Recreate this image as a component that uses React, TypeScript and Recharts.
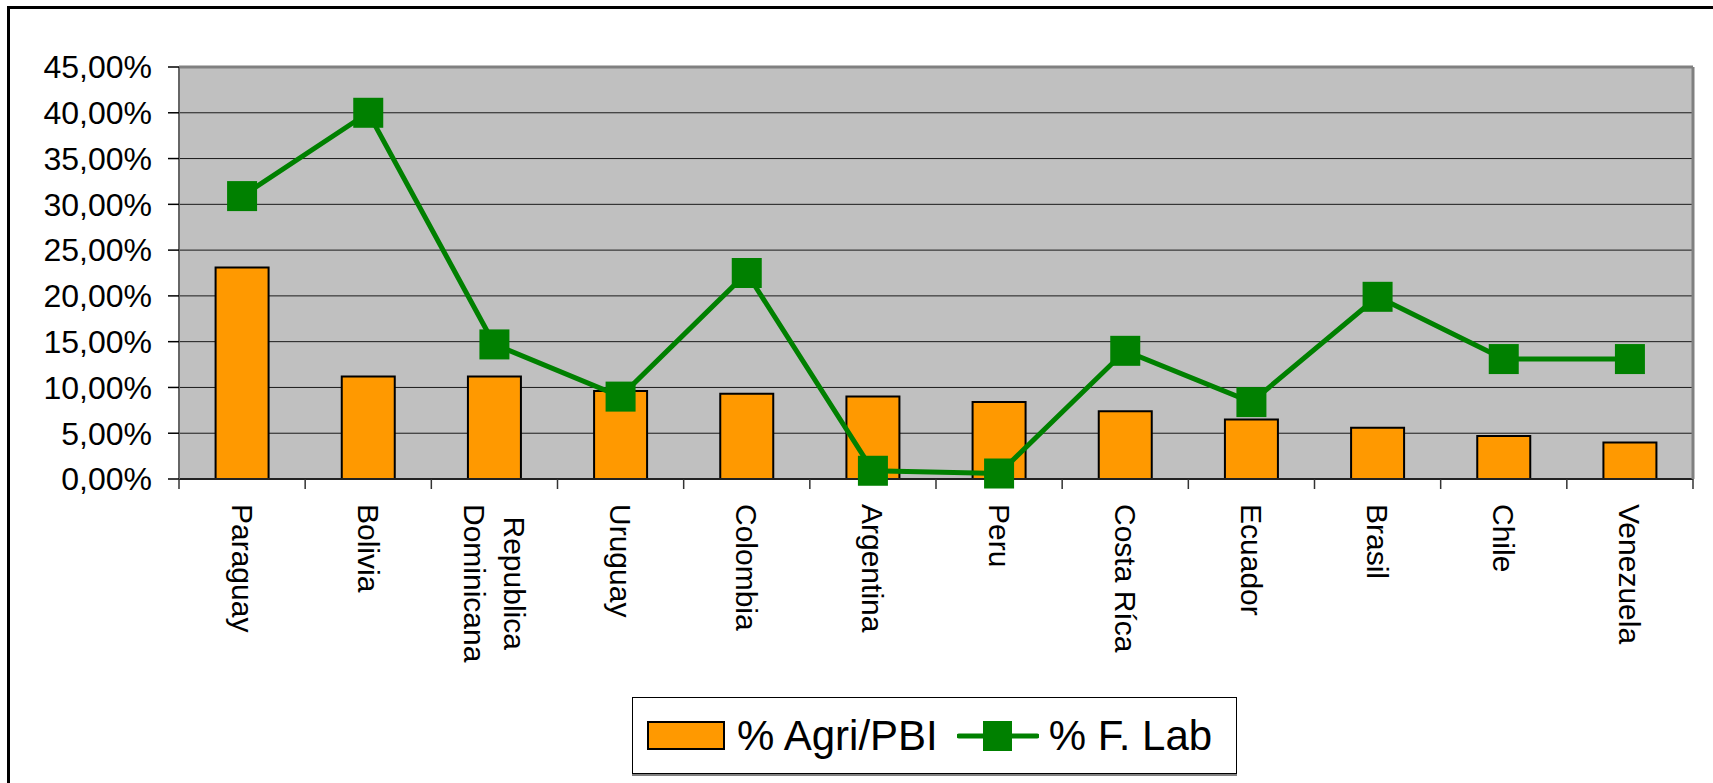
import React from 'react';
import { ComposedChart, Bar, Line, XAxis, YAxis, CartesianGrid, Legend } from 'recharts';

const categories = ['Paraguay', 'Bolivia', 'Republica Dominicana', 'Uruguay', 'Colombia', 'Argentina', 'Peru', 'Costa Ríca', 'Ecuador', 'Brasil', 'Chile', 'Venezuela'];
const agriPbi = [23.1, 11.2, 11.2, 9.6, 9.3, 9.0, 8.4, 7.4, 6.5, 5.6, 4.7, 4.0];
const fLab = [30.9, 40.0, 14.7, 9.0, 22.5, 0.9, 0.6, 14.0, 8.4, 19.9, 13.1, 13.1];
const yTicks = [0, 5, 10, 15, 20, 25, 30, 35, 40, 45];
const seriesNames = ['% Agri/PBI', '% F. Lab'];

const data = categories.map((name, i) => ({ name, agri: agriPbi[i], flab: fLab[i] }));

const FONT = "'Liberation Sans', Arial, sans-serif";
const ORANGE = '#FF9900';
const GREEN = '#008000';
const W = 1713;
const H = 783;
const PLOT_LEFT = 179;
const PLOT_TOP = 67;
const PLOT_RIGHT_GAP = 20;
const PLOT_BOTTOM_GAP = 304;

let ctx: any = null;
const measure = (t: string, font: string) => {
  if (!ctx) ctx = document.createElement('canvas').getContext('2d');
  ctx.font = font;
  return ctx.measureText(t).width;
};
const LABEL_SIZE = 30;
const LABEL_FONT = `${LABEL_SIZE}px ${FONT}`;

const fmt = (v: number) => v.toFixed(2).replace('.', ',') + '%';

function CategoryTick(props: any) {
  const { x, y, payload, index, visibleTicksCount } = props;
  const fallback = (W - PLOT_LEFT - PLOT_RIGHT_GAP) / categories.length / 2;
  const half = payload && payload.offset ? payload.offset : fallback;
  const label = String(payload.value);
  const words = label.split(' ');
  let lines = [label];
  if (words.length > 1 && measure(label, LABEL_FONT) > 200) lines = words;
  const maxW = Math.max(...lines.map((l) => measure(l, LABEL_FONT)));
  const n = lines.length;
  return (
    <g transform={`translate(${x},${y})`}>
      <line x1={-half} x2={-half} y1={0} y2={10} stroke="#333" strokeWidth={1.5} />
      {index === visibleTicksCount - 1 && (
        <line x1={half} x2={half} y1={0} y2={10} stroke="#333" strokeWidth={1.5} />
      )}
      <g transform="rotate(90)">
        {lines.map((ln, i) => (
          <text
            key={i}
            x={n > 1 ? 25 + maxW / 2 : 25}
            y={(i - (n - 1) / 2) * 40}
            textAnchor={n > 1 ? 'middle' : 'start'}
            dominantBaseline="central"
            fontSize={LABEL_SIZE}
            fontFamily={FONT}
            fill="#000"
          >
            {ln}
          </text>
        ))}
      </g>
    </g>
  );
}

const SquareDot = (props: any) => {
  const { cx, cy, index } = props;
  if (cx == null || cy == null) return <g key={`d${index}`} />;
  return <rect key={`d${index}`} x={cx - 15} y={cy - 15} width={30} height={30} fill={GREEN} />;
};

const renderLegend = (props: any) => {
  const payload = props.payload || [];
  return (
    <div
      style={{
        display: 'flex',
        alignItems: 'center',
        boxSizing: 'border-box',
        width: 605,
        height: 77,
        border: '1px solid #000',
        boxShadow: '0 2px 0 #808080',
        background: '#fff',
        paddingLeft: 14,
        fontFamily: FONT,
        fontSize: 42,
        color: '#000',
        whiteSpace: 'nowrap',
      }}
    >
      {payload.map((entry: any, i: number) =>
        entry.type === 'rect' ? (
          <React.Fragment key={i}>
            <span
              style={{
                display: 'inline-block',
                width: 78,
                height: 29,
                boxSizing: 'border-box',
                background: ORANGE,
                border: '2px solid #000',
              }}
            />
            <span style={{ marginLeft: 12, marginRight: 19, lineHeight: 1 }}>{entry.value}</span>
          </React.Fragment>
        ) : (
          <React.Fragment key={i}>
            <svg width={82} height={40} style={{ display: 'block' }}>
              <line x1={2} x2={80} y1={20} y2={20} stroke={GREEN} strokeWidth={5} strokeLinecap="round" />
              <rect x={26} y={5} width={29} height={30} fill={GREEN} />
            </svg>
            <span style={{ marginLeft: 10, lineHeight: 1 }}>{entry.value}</span>
          </React.Fragment>
        )
      )}
    </div>
  );
};

export default function App() {
  return (
    <div style={{ position: 'relative', width: W, height: H, overflow: 'hidden', background: '#fff' }}>
      <style>{'body{margin:0;overflow:hidden;}'}</style>
      <div
        style={{
          position: 'absolute',
          left: 7,
          top: 6,
          width: W + 20,
          height: H + 20,
          borderLeft: '3px solid #000',
          borderTop: '3px solid #000',
        }}
      />
      <div style={{ position: 'absolute', left: 0, top: 0 }}>
        <ComposedChart
          width={W}
          height={H}
          data={data}
          margin={{ top: 0, right: 0, bottom: 0, left: 0 }}
          barCategoryGap="29%"
        >
          <CartesianGrid vertical={false} fill="#C0C0C0" stroke="#1a1a1a" strokeWidth={1} />
          <XAxis
            dataKey="name"
            height={PLOT_BOTTOM_GAP}
            interval={0}
            tickLine={false}
            tickSize={0}
            tickMargin={0}
            axisLine={{ stroke: '#222', strokeWidth: 2 }}
            tick={<CategoryTick />}
          />
          <XAxis
            xAxisId="top"
            dataKey="name"
            orientation="top"
            height={PLOT_TOP}
            tick={false}
            tickLine={false}
            axisLine={{ stroke: '#808080', strokeWidth: 3 }}
          />
          <YAxis
            width={PLOT_LEFT}
            domain={[0, 45]}
            ticks={yTicks}
            tickFormatter={fmt}
            tickSize={11}
            tickMargin={16}
            tickLine={{ stroke: '#000', strokeWidth: 1.5 }}
            axisLine={{ stroke: '#666', strokeWidth: 2 }}
            tick={{ fontSize: 32, fill: '#000', fontFamily: FONT }}
          />
          <YAxis
            yAxisId="right"
            orientation="right"
            width={PLOT_RIGHT_GAP}
            domain={[0, 1]}
            tick={false}
            tickLine={false}
            axisLine={{ stroke: '#808080', strokeWidth: 3 }}
          />
          <Bar
            dataKey="agri"
            name={seriesNames[0]}
            fill={ORANGE}
            stroke="#000"
            strokeWidth={2}
            legendType="rect"
            isAnimationActive={false}
          />
          <Line
            dataKey="flab"
            name={seriesNames[1]}
            stroke={GREEN}
            strokeWidth={5}
            dot={SquareDot}
            activeDot={false}
            legendType="line"
            isAnimationActive={false}
          />
          <Legend
            layout="horizontal"
            verticalAlign="middle"
            align="center"
            content={renderLegend}
            wrapperStyle={{ left: 632, top: 697, width: 'auto', height: 'auto' }}
          />
        </ComposedChart>
      </div>
    </div>
  );
}
